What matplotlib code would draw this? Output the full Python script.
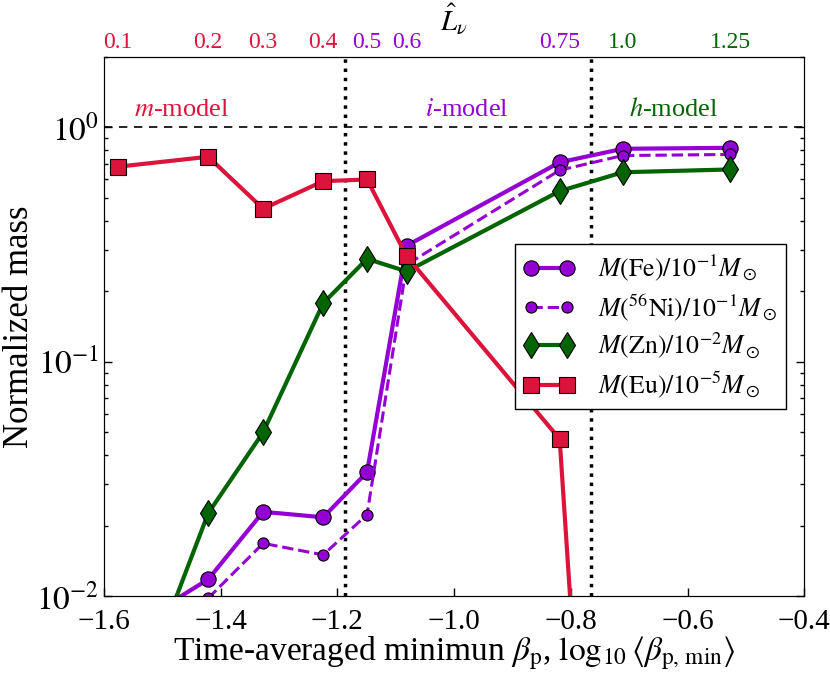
import math
import matplotlib
matplotlib.use('Agg')
import matplotlib.pyplot as plt
from matplotlib.ticker import LogLocator, FuncFormatter

plt.rcParams['font.family'] = 'serif'
plt.rcParams['font.serif'] = ['Liberation Serif', 'DejaVu Serif']
plt.rcParams['mathtext.fontset'] = 'stix'

# log10 <beta_p,min> for each run, and the L_nu of that run
beta_min = [-1.576, -1.421, -1.327, -1.224, -1.149, -1.081, -0.819, -0.711, -0.527]
L_nu = ['0.1', '0.2', '0.3', '0.4', '0.5', '0.6', '0.75', '1.0', '1.25']
L_colors = ['crimson'] * 4 + ['darkviolet'] * 3 + ['darkgreen'] * 2

# normalized masses
m_fe = [0.0068, 0.0118, 0.0229, 0.0217, 0.0338, 0.313, 0.71, 0.811, 0.819]
m_ni = [0.005, 0.0098, 0.0168, 0.0150, 0.0223, 0.26, 0.657, 0.759, 0.767]
m_zn = [0.0022, 0.0226, 0.050, 0.178, 0.275, 0.243, 0.535, 0.644, 0.662]
m_eu = [0.68, 0.75, 0.45, 0.59, 0.60, 0.282, 0.0468, 4e-6, 1e-6]

# model boundaries
bounds = [-1.187, -0.766]

fig = plt.figure(figsize=(8.3, 6.86), dpi=100)
ax = fig.add_axes([0.125, 0.131, 0.844, 0.786])

ax.plot(beta_min, m_fe, '-o', color='darkviolet', lw=3, ms=11, mec='k', mew=0.8,
        label=r'$M(\mathrm{Fe})/10^{-1}M_\odot$')
ax.plot(beta_min, m_ni, '--o', color='darkviolet', lw=2.2, ms=8, mec='k', mew=0.8,
        label=r'$M(^{56}\mathrm{Ni})/10^{-1}M_\odot$')
ax.plot(beta_min, m_zn, '-d', color='darkgreen', lw=3, ms=13, mec='k', mew=0.8,
        label=r'$M(\mathrm{Zn})/10^{-2}M_\odot$')
ax.plot(beta_min, m_eu, '-s', color='crimson', lw=3, ms=11, mec='k', mew=0.8,
        label=r'$M(\mathrm{Eu})/10^{-5}M_\odot$')

ax.axhline(1.0, color='k', ls='--', lw=1.2, dashes=(5, 4), zorder=1)
for b in bounds:
    ax.axvline(b, color='k', ls=':', lw=2.5, zorder=1)

ax.text(-1.466, 1.19, r'$m$-model', color='crimson', fontsize=19, ha='center', va='center')
ax.text(-0.978, 1.19, r'$i$-model', color='darkviolet', fontsize=19, ha='center', va='center')
ax.text(-0.624, 1.19, r'$h$-model', color='darkgreen', fontsize=19, ha='center', va='center')

ax.set_yscale('log')
ax.set_xlim(-1.6, -0.4)
ax.set_ylim(0.01, 2.0)
ax.set_xticks([-1.6, -1.4, -1.2, -1.0, -0.8, -0.6, -0.4])
ax.yaxis.set_major_locator(LogLocator(base=10))
ax.yaxis.set_major_formatter(FuncFormatter(lambda v, p: r'$10^{%d}$' % round(math.log10(v))))
ax.tick_params(which='both', direction='in', top=True, right=True, labelsize=21)
ax.tick_params(axis='y', labelsize=24)
ax.tick_params(which='major', length=6, width=1)
ax.tick_params(which='minor', length=3, width=1)
ax.tick_params(axis='x', which='minor', top=False, bottom=False)
ax.tick_params(axis='x', pad=9)

ax.set_xlabel(r'Time-averaged minimun $\beta_\mathrm{p}$, $\log_{10}\langle\beta_\mathrm{p,\,min}\rangle$',
              fontsize=24, labelpad=0)
ax.set_ylabel('Normalized mass', fontsize=25, labelpad=0)

ax.legend(loc='center right', numpoints=2, fontsize=18.5, frameon=True, fancybox=False,
          edgecolor='k', framealpha=1, handlelength=2.0, labelspacing=0.33,
          handletextpad=0.9, borderaxespad=0.7, borderpad=0.35)

top = ax.twiny()
top.set_xlim(ax.get_xlim())
top.set_xticks(beta_min)
top.set_xticklabels(L_nu, fontsize=17)
for lab, c in zip(top.get_xticklabels(), L_colors):
    lab.set_color(c)
top.tick_params(axis='x', length=0, pad=3)
top.set_xlabel(r'$\hat{L}_\nu$', fontsize=21, labelpad=1)

fig.savefig('out.png', dpi=100)
